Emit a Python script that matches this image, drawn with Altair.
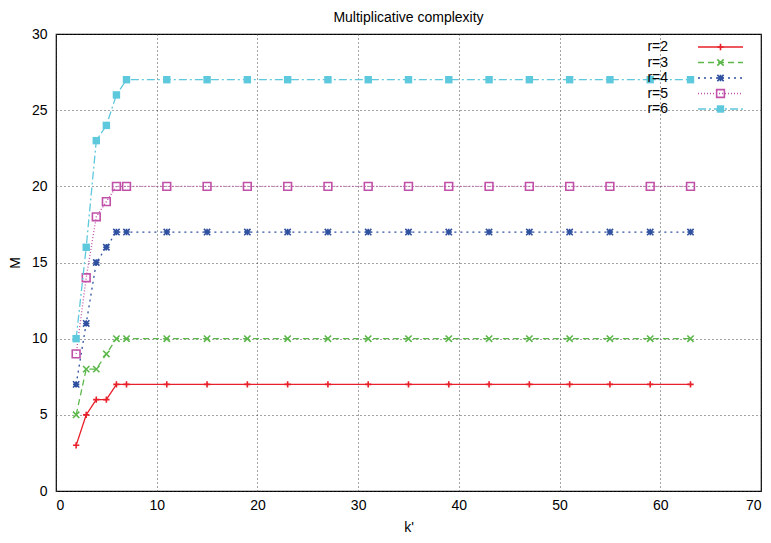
import altair as alt
import pandas as pd

k_vals = [2, 3, 4, 5, 6, 7, 11, 15, 19, 23, 27, 31, 35, 39, 43, 47, 51, 55, 59, 63]
tail = 14
r2 = [3, 5, 6, 6, 7, 7] + [7] * tail
r3 = [5, 8, 8, 9, 10, 10] + [10] * tail
r4 = [7, 11, 15, 16, 17, 17] + [17] * tail
r5 = [9, 14, 18, 19, 20, 20] + [20] * tail
r6 = [10, 16, 23, 24, 26, 27] + [27] * tail

series_names = ["r=2", "r=3", "r=4", "r=5", "r=6"]
series_vals = [r2, r3, r4, r5, r6]
title_text = ["Multiplicative complexity"]
colors = ["#e8202a", "#5cb84a", "#3050a0", "#c050a8", "#5ec8dc"]
dashes = [[1, 0], [6, 4], [2, 4], [1, 2], [8, 3, 2, 3]]
shapes = [
    "M-1,0L1,0M0,-1L0,1",
    "M-1,-1L1,1M-1,1L1,-1",
    "M-1,-1L1,1M-1,1L1,-1M-1,0L1,0M0,-1L0,1",
    "square",
    "square",
]
filled = [False, False, False, False, True]

FONT = "Liberation Sans"

x_scale = alt.Scale(domain=[0, 70], nice=False)
y_scale = alt.Scale(domain=[0, 30], nice=False)


def point_mark(chart, i):
    kw = dict(shape=shapes[i], color=colors[i], opacity=1)
    if filled[i]:
        return chart.mark_point(filled=True, size=55, **kw)
    if shapes[i] == "square":
        return chart.mark_point(filled=False, size=60, strokeWidth=1.6, **kw)
    return chart.mark_point(filled=False, size=40, strokeWidth=1.6, **kw)


layers = []
leg_layers = []
for i, (name, vals) in enumerate(zip(series_names, series_vals)):
    df = pd.DataFrame({"k": k_vals, "M": vals, "series": name})
    base = alt.Chart(df).encode(
        x=alt.X("k:Q", scale=x_scale,
                axis=alt.Axis(title="k'", values=list(range(0, 71, 10)), grid=True)),
        y=alt.Y("M:Q", scale=y_scale,
                axis=alt.Axis(title="M", values=list(range(0, 31, 5)), grid=True)),
    )
    line = base.mark_line(color=colors[i], strokeDash=dashes[i], strokeWidth=1.3)
    pts = point_mark(base, i)
    layers += [line, pts]

    # legend entry (pixel placement inside the plot)
    ly = 13 + i * 15.5
    ldf = pd.DataFrame({"lab": [name]})
    lt = alt.Chart(ldf).mark_text(align="right", baseline="middle", font=FONT,
                                  fontSize=14, color="black").encode(
        text="lab:N", x=alt.value(612), y=alt.value(ly))
    lr = alt.Chart(ldf).mark_rule(color=colors[i], strokeDash=dashes[i], strokeWidth=1.3).encode(
        x=alt.value(642), x2=alt.value(687), y=alt.value(ly))
    lp = point_mark(alt.Chart(ldf), i).encode(x=alt.value(664.5), y=alt.value(ly))
    leg_layers += [lr, lp, lt]

title_layer = alt.Chart(pd.DataFrame({"t": title_text})).mark_text(
    align="center", baseline="middle", font=FONT, fontSize=14, color="black"
).encode(text="t:N", x=alt.value(352.5), y=alt.value(-16))

chart = alt.layer(*layers, *leg_layers, title_layer).properties(
    width=705,
    height=457,
    autosize=alt.AutoSizeParams(type="none"),
    padding={"left": 48, "top": 26, "right": 2, "bottom": 44},
).configure_view(
    stroke="black", strokeWidth=1.2
).configure_axis(
    labelFont=FONT, titleFont=FONT, labelFontSize=14, titleFontSize=14,
    titleFontWeight="normal", labelColor="black", titleColor="black",
    domain=False, ticks=False,
    gridColor="#333", gridDash=[1, 3], gridOpacity=0.9, gridWidth=1,
).configure_axisX(
    labelPadding=7, titlePadding=8,
).configure_axisY(
    labelPadding=9, titlePadding=9, titleAngle=-90,
)

chart.save("out.html", embed_options={"renderer": "svg", "actions": False})
